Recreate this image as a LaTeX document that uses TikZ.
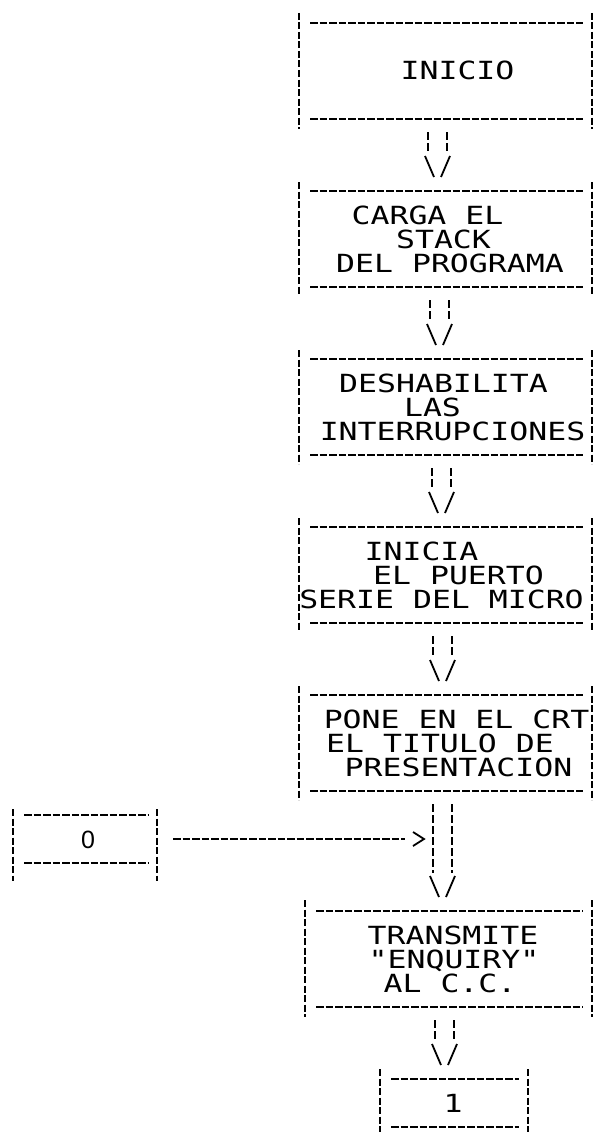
\documentclass[tikz,border=0pt]{standalone}
\usepackage{fontspec}
\newfontfamily\dotfont[FakeStretch=1.26]{DejaVu Sans Mono}
\newfontfamily\zerofont{Liberation Sans}
\usetikzlibrary{calc}
\newcommand\asciibox[3]{%
  \draw[hline] ($(#1.north west)+(11,0)$) -- ($(#1.north east)+(-9,0)$);
  \draw[hline] ($(#1.south west)+(11,0)$) -- ($(#1.south east)+(-9,0)$);
  \draw[vline] ($(#1.north west)+(0,-#2)$) -- ($(#1.south west)+(0,#3)$);
  \draw[vline] ($(#1.north east)+(0,-#2)$) -- ($(#1.south east)+(0,#3)$);
}
\newcommand\flowdown[3]{%
  \draw[flowbar] ($(#3,0 |- #1.south)+(0,13)$) -- ($(#3,0 |- #2.north)+(0,-38)$);
  \draw[flowbar] ($(#3,0 |- #1.south)+(19,13)$) -- ($(#3,0 |- #2.north)+(19,-38)$);
  \draw[vstroke] ($(#3,0 |- #2.north)+(-3,-35)$) -- ($(#3,0 |- #2.north)+(6,-14)$);
  \draw[vstroke] ($(#3,0 |- #2.north)+(22,-35)$) -- ($(#3,0 |- #2.north)+(13,-14)$);
}
\begin{document}
\begin{tikzpicture}[x=1pt,y=-1pt,
  boxshape/.style={rectangle, inner sep=0pt, outer sep=0pt},
  hline/.style={line width=1.7pt, dash pattern=on 7.5pt off 2pt, black},
  vline/.style={line width=1.7pt, dash pattern=on 7pt off 2.5pt, black},
  flowbar/.style={line width=1.7pt, dash pattern=on 8pt off 3pt, black},
  vstroke/.style={line width=1.8pt, black},
  lbl/.style={font=\dotfont\fontsize{25}{24}\selectfont, inner sep=0pt, anchor=base},
]
\fill[white] (0,0) rectangle (597,1132);
\useasboundingbox (0,0) rectangle (597,1132);

% boxes
\node[boxshape, minimum width=293pt, minimum height=96pt] (b1) at (445.5,71) {};
\node[boxshape, minimum width=293pt, minimum height=96pt] (b2) at (445.5,239) {};
\node[boxshape, minimum width=293pt, minimum height=96pt] (b3) at (445.5,407) {};
\node[boxshape, minimum width=293pt, minimum height=96pt] (b4) at (445.5,575) {};
\node[boxshape, minimum width=293pt, minimum height=96pt] (b5) at (445.5,743) {};
\node[boxshape, minimum width=287pt, minimum height=96pt] (b6) at (448.5,959) {};
\node[boxshape, minimum width=148pt, minimum height=48pt] (bend) at (454,1103) {};
\node[boxshape, minimum width=144pt, minimum height=48pt] (b0) at (85,839) {};

\asciibox{b1}{10}{10}
\asciibox{b2}{9}{9}
\asciibox{b3}{9}{9}
\asciibox{b4}{9}{9}
\asciibox{b5}{9}{9}
\asciibox{b6}{11}{10}
\asciibox{bend}{10}{10}
\asciibox{b0}{6}{18}

% labels
\node[lbl] (t1) at (457.5,80) {INICIO};
\node[lbl] (t2a) at (427.5,224) {CARGA EL};
\node[lbl] (t2b) at (443.5,248) {STACK};
\node[lbl] (t2c) at (450,272) {DEL PROGRAMA};
\node[lbl] (t3a) at (443.5,392) {DESHABILITA};
\node[lbl] (t3b) at (432.5,416) {LAS};
\node[lbl] (t3c) at (452.5,440) {INTERRUPCIONES};
\node[lbl] (t4a) at (421.5,560) {INICIA};
\node[lbl] (t4b) at (458.5,584) {EL PUERTO};
\node[lbl] (t4c) at (441.5,608) {SERIE DEL MICRO};
\node[lbl] (t5a) at (456.5,728) {PONE EN EL CRT};
\node[lbl] (t5b) at (440,752) {EL TITULO DE};
\node[lbl] (t5c) at (458.5,776) {PRESENTACION};
\node[lbl] (t6a) at (453,944) {TRANSMITE};
\node[lbl] (t6b) at (454,968) {"ENQUIRY"};
\node[lbl] (t6c) at (450,992) {AL C.C.};
\node[lbl] (tend) at (453,1112) {1};
\node[lbl] (t0) at (88,848) {\zerofont 0};

% flow connectors
\flowdown{b1}{b2}{428}
\flowdown{b2}{b3}{430}
\flowdown{b3}{b4}{432}
\flowdown{b4}{b5}{433}
\flowdown{b5}{b6}{433}
\flowdown{b6}{bend}{435}

% connector from 0
\coordinate (hin) at (424,839);
\draw[hline] ($(b0.east)+(16,0)$) -- ($(hin)+(-19,0)$);
\draw[vstroke] ($(hin)+(-11,-7)$) -- (hin) -- ($(hin)+(-11,7)$);
\end{tikzpicture}
\end{document}
